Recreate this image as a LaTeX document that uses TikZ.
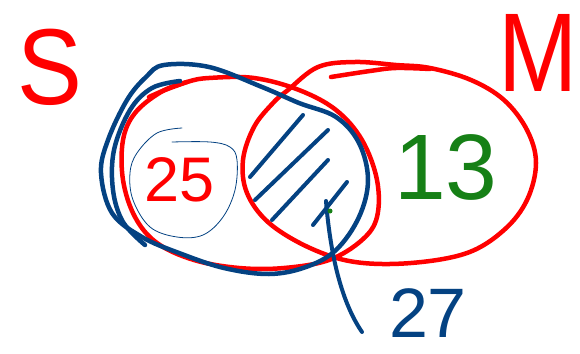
\documentclass[tikz,border=0pt]{standalone}
\usepackage{fontspec}
\setmainfont{Liberation Sans}
\definecolor{penred}{RGB}{255,0,0}
\definecolor{penblue}{RGB}{4,66,130}
\definecolor{pengreen}{RGB}{22,128,22}
\begin{document}
\begin{tikzpicture}[x=1pt,y=-1pt,line cap=round,line join=round,
  redpen/.style={draw=penred,line width=4.5pt},
  bluepen/.style={draw=penblue,line width=4.5pt},
  thinpen/.style={draw=penblue,line width=0.8pt},
  hatchpen/.style={draw=penblue,line width=4pt},
  lbl/.style={inner sep=0pt,anchor=center}]
\useasboundingbox (0,0) rectangle (580,353);
\fill[white] (0,0) rectangle (580,353);
% right set M
\draw[redpen] plot[smooth cycle,tension=0.6] coordinates {
 (288,90) (318,67) (355,62) (396,65) (430,68) (471,80) (504,100) (527,130)
 (536,163) (527,200) (504,230) (467,253) (411,263) (355,262) (310,248)
 (269,223) (247,193) (243,160) (254,127) (273,103)};
\draw[redpen] plot[smooth,tension=0.6] coordinates {(331,77) (370,71) (396,68) (430,69)};
% left set S (red)
\draw[redpen] plot[smooth cycle,tension=0.6] coordinates {
 (209,78) (254,78) (299,90) (336,110) (362,140) (377,180) (377,217) (362,240)
 (329,260) (284,268) (239,268) (194,260) (157,243) (135,217) (123,180)
 (123,140) (135,113) (161,92) (187,82)};
\draw[redpen] plot[smooth,tension=0.6] coordinates {(149,97) (165,90) (187,82)};
% thin blue circle around 25
\draw[thinpen] plot[smooth,tension=0.6] coordinates {
 (182,128) (157,133) (137,153) (130,173) (133,200) (150,227) (177,237)
 (203,235) (223,217) (235,190) (237,160) (230,147) (210,142) (172,142)};
% blue loop
\draw[bluepen] plot[smooth cycle,tension=0.6] coordinates {
 (164,65) (209,67) (262,87) (299,103) (336,117) (359,143) (368,180)
 (359,217) (336,250) (306,267) (269,274) (224,268) (179,253) (142,237)
 (112,213) (101,173) (108,140) (127,100) (146,77)};
\draw[bluepen] plot[smooth,tension=0.6] coordinates {
 (180,81) (152,88) (130,110) (114,150) (113,190) (123,222) (145,245)};
% hatching
\draw[hatchpen] (303,115) -- (250,177);
\draw[hatchpen] (328,130) -- (255,200);
\draw[hatchpen] (328,160) -- (272,220);
\draw[hatchpen] (347,182) -- (313,225);
% pointer
\coordinate (dot) at (330,211);
\coordinate (tail) at (362,332);
\draw[bluepen,line width=4pt] (tail) .. controls (340,300) and (330,250) .. (326,201);
\fill[pengreen] (dot) circle (2.5pt);
% labels
\node[lbl,text=penred,font=\fontsize{108}{108}\selectfont,xscale=0.9] (S) at (50,67) {S};
\node[lbl,text=penred,font=\fontsize{112}{112}\selectfont,xscale=0.85] (M) at (538,53) {M};
\node[lbl,text=penred,font=\fontsize{63}{63}\selectfont] (n25) at (180,180) {25};
\node[lbl,text=pengreen,font=\fontsize{93}{93}\selectfont] (n13) at (446,167) {13};
\node[lbl,text=penblue,font=\fontsize{70}{70}\selectfont] (n27) at (428,313) {27};
\end{tikzpicture}
\end{document}
